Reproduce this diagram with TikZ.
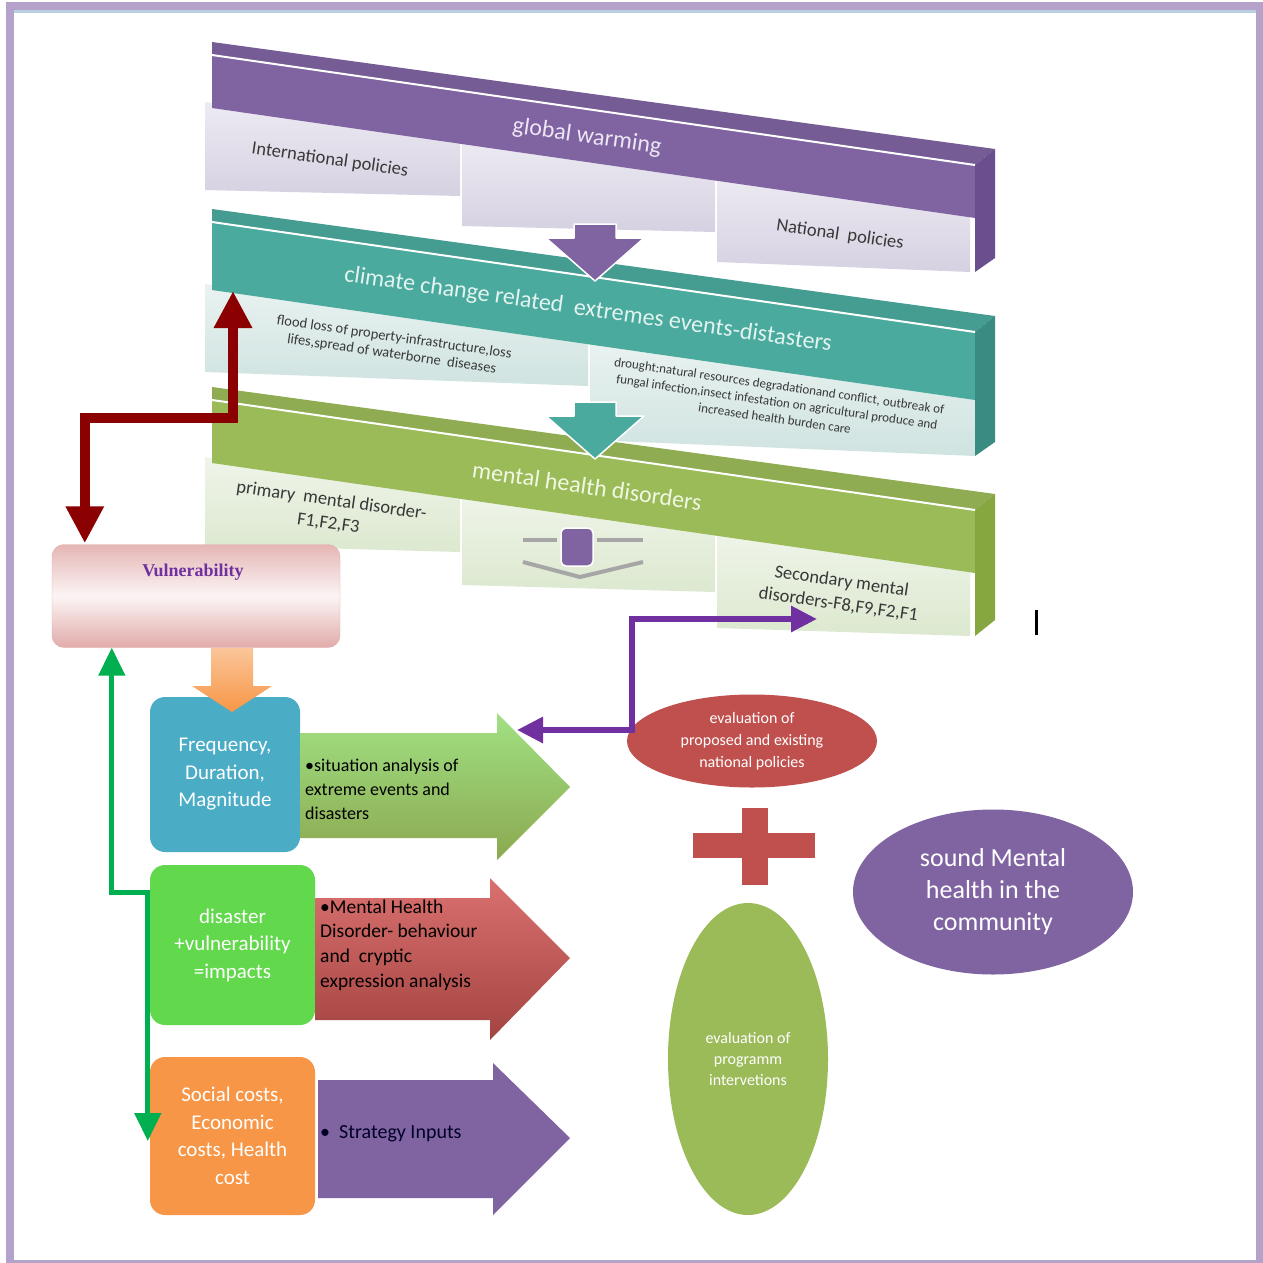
\documentclass[tikz,border=0pt]{standalone}
\usepackage{fontspec}
\setmainfont{Carlito}
\newfontfamily\vulfont{Liberation Serif}
\usetikzlibrary{positioning, calc, arrows.meta, shapes.geometric}
\definecolor{gwpurple}{HTML}{8064A2}
\definecolor{gwdark}{HTML}{6A4E8E}
\definecolor{gwgrey}{HTML}{D6D1E2}
\definecolor{gwtext}{HTML}{ECE6F4}
\definecolor{ccteal}{HTML}{4BAA9E}
\definecolor{ccdark}{HTML}{3A8C82}
\definecolor{ccgrey}{HTML}{CFE3E0}
\definecolor{cctext}{HTML}{E2F3F0}
\definecolor{mhgreen}{HTML}{9BBB59}
\definecolor{mhdark}{HTML}{86A63F}
\definecolor{mhgrey}{HTML}{DCE8CF}
\definecolor{mhtext}{HTML}{F0F7E2}
\definecolor{boxblue}{HTML}{4BACC6}
\definecolor{boxgreen}{HTML}{62D84C}
\definecolor{boxorange}{HTML}{F79646}
\definecolor{evalred}{HTML}{C0504D}
\definecolor{linkred}{HTML}{8B0000}
\definecolor{linkgreen}{HTML}{00B050}
\definecolor{linkpurple}{HTML}{7030A0}
\definecolor{framelilac}{HTML}{B4A2CB}
\definecolor{frameblue}{HTML}{B9CFE2}
\tikzset{slabtitle/.style={rotate=-8.2, align=center, font=\fontsize{24}{28}\selectfont},
slablabel/.style={rotate=-8.2, align=center, text=black!78, font=\fontsize{18.5}{23}\selectfont},
block/.style={rounded corners=15pt, minimum width=165pt, minimum height=158pt, align=center, text=white, font=\fontsize{21}{27.5}\selectfont, inner sep=2pt},
arrowtext/.style={anchor=west, align=left, text=black, inner sep=0pt},
oval/.style={ellipse, inner sep=0pt, align=center, text=white},
downarrow/.style={draw=white, line width=1.5pt, line join=round},
redlink/.style={draw=linkred, line width=10pt, {Triangle[width=36pt,length=37pt]}-{Triangle[width=36pt,length=37pt]}},
greenlink/.style={draw=linkgreen, line width=5pt, {Triangle[width=26pt,length=28pt]}-{Triangle[width=26pt,length=28pt]}},
purplelink/.style={draw=linkpurple, line width=6pt, {Triangle[width=25pt,length=26pt]}-{Triangle[width=25pt,length=26pt]}}
}
\begin{document}
\begin{tikzpicture}[x=1pt, y=-1pt]
\useasboundingbox (0,0) rectangle (1263,1263);
\fill[white] (0,0) rectangle (1263,1263);
\draw[framelilac, line width=8pt] (10,6) rectangle (1260,1264);
\draw[frameblue, line width=3pt] (14,11.5) -- (1256,11.5);

% global warming slab
\foreach \xl/\xr/\ta/\tb/\ba/\bb in {205/460/102/139/190/196, 462/715/139/175/226/232, 717/970/175/212/262/272}
  \shade[top color=gwgrey!45!white, bottom color=gwgrey] (\xl,\ta) -- (\xr,\tb) -- (\xr,\bb) -- (\xl,\ba) -- cycle;
\fill[gwpurple] (212,55) -- (975,165) -- (975,218) -- (212,108) -- cycle;
\fill[gwpurple!92!black] (212,42) -- (995,149) -- (975,165) -- (212,55) -- cycle;
\fill[gwdark] (975,165) -- (995,149) -- (995,258) -- (975,272) -- cycle;
\draw[white, line width=2pt] (212,55) -- (975,165);
\node[slabtitle, text=gwtext] (Global) at (587,137) {global warming};
\node[slablabel] (International) at (330,160) {International policies};
\node[slablabel] (National) at (840,235) {National\ \ policies};

% climate change slab
\foreach \xl/\xr/\ta/\tb/\ba/\bb in {205/588/284/339/372/386, 590/975/339/395/440/456}
  \shade[top color=ccgrey!45!white, bottom color=ccgrey] (\xl,\ta) -- (\xr,\tb) -- (\xr,\bb) -- (\xl,\ba) -- cycle;
\fill[ccteal] (212,222) -- (975,332) -- (975,400) -- (212,290) -- cycle;
\fill[ccteal!92!black] (212,209) -- (995,316) -- (975,332) -- (212,222) -- cycle;
\fill[ccdark] (975,332) -- (995,316) -- (995,442) -- (975,456) -- cycle;
\draw[white, line width=2pt] (212,222) -- (975,332);
\node[slabtitle, text=cctext] (Climate) at (588,310) {climate change related\ \ extremes events-distasters};
\node[slablabel, font=\fontsize{14.5}{17}\selectfont] (Flood) at (393,346) {flood loss of property-infrastructure,loss\\lifes,spread of waterborne\ \ diseases};
\node[slablabel, font=\fontsize{13}{16.5}\selectfont] (Drought) at (777,402) {drought:natural resources degradationand conflict, outbreak of\\fungal infection,insect infestation on agricultural produce and\\increased health burden care};

% mental health slab
\foreach \xl/\xr/\ta/\tb/\ba/\bb in {205/460/457/493/545/552, 462/715/493/530/585/592, 717/970/530/567/628/636}
  \shade[top color=mhgrey!45!white, bottom color=mhgrey] (\xl,\ta) -- (\xr,\tb) -- (\xr,\bb) -- (\xl,\ba) -- cycle;
\fill[mhgreen] (212,400) -- (975,510) -- (975,573) -- (212,463) -- cycle;
\fill[mhgreen!92!black] (212,387) -- (995,494) -- (975,510) -- (212,400) -- cycle;
\fill[mhdark] (975,510) -- (995,494) -- (995,620) -- (975,636) -- cycle;
\draw[white, line width=2pt] (212,400) -- (975,510);
\node[slabtitle, text=mhtext] (Mental) at (587,486) {mental health disorders};
\node[slablabel] (Primary) at (330,512) {primary\ \ mental disorder-\\F1,F2,F3};
\node[slablabel] (Secondary) at (840,593) {Secondary mental\\disorders-F8,F9,F2,F1};

\filldraw[fill=gwpurple, downarrow] (574,224) -- (616,224) -- (616,238) -- (644,238) -- (595,281) -- (546,238) -- (574,238) -- cycle;
\filldraw[fill=ccteal, downarrow] (574,402) -- (616,402) -- (616,416) -- (644,416) -- (595,459) -- (546,416) -- (574,416) -- cycle;
\draw[black!35, line width=4pt] (523,540) -- (557,540) (597,540) -- (643,540);
\draw[black!35, line width=4pt, line join=round] (523,562) -- (580,577) -- (643,562);
\filldraw[fill=gwpurple, draw=white, line width=1.5pt, rounded corners=5pt] (561,528) rectangle (593,566);

\node[rounded corners=12pt, minimum width=288pt, minimum height=103pt, draw=evalred!45, top color=evalred!42!white, bottom color=evalred!48!white, middle color=evalred!6!white] (Vulnerability) at (196,596) {};
\node[font=\vulfont\bfseries\fontsize{18}{20}\selectfont, text=linkpurple] (Vulnerability text) at (193,572) {Vulnerability};

\node[block, fill=boxblue, minimum width=150pt, minimum height=155pt] (Frequency) at (225,774.5) {Frequency,\\Duration,\\Magnitude};
\node[block, fill=boxgreen, minimum height=160pt] (Disaster) at (232.5,945) {disaster\\+vulnerability\\=impacts};
\node[block, fill=boxorange] (Social) at (232.5,1136) {Social costs,\\Economic\\costs, Health\\cost};
\shade[top color=boxorange!55!white, bottom color=boxorange] (211,648) -- (253,648) -- (253,686) -- (272,686) -- (232,712) -- (192,686) -- (211,686) -- cycle;

\shade[top color=mhgreen!55!white!80!green, bottom color=mhgreen!90!black] (300,733) -- (497,733) -- (497,713) -- (570,787) -- (497,860) -- (497,838) -- (300,838) -- cycle;
\shade[top color=evalred!70!white!85!red, bottom color=evalred!85!black] (315,898) -- (490,898) -- (490,878) -- (570,958) -- (490,1040) -- (490,1020) -- (315,1020) -- cycle;
\fill[gwpurple] (318,1080) -- (493,1080) -- (493,1063) -- (570,1138) -- (493,1215) -- (493,1198) -- (318,1198) -- cycle;
\node[arrowtext, font=\fontsize{18}{24}\selectfont] (Situation) at (305,789) {\textbullet situation analysis of\\extreme events and\\disasters};
\node[arrowtext, font=\fontsize{19.5}{24.6}\selectfont] (Analysis) at (320,945) {\textbullet Mental Health\\Disorder- behaviour\\and\ \ cryptic\\expression analysis};
\node[arrowtext, font=\fontsize{20}{24}\selectfont, text=black!85!blue] (Strategy) at (320,1134) {\textbullet\ \ Strategy Inputs};

\coordinate (flood end) at (233,291);
\draw[redlink] ($(Vulnerability.north west)+(33,-1)$) |- ($(flood end)+(0,127)$) -- (flood end);
\draw[greenlink] ($(Vulnerability.south west)+(60,0)$) |- ($(Disaster.north west)+(-2,28)$) -- ($(Social.west)+(-2,5)$);

\node[oval, fill=evalred, minimum width=250pt, minimum height=93pt, font=\fontsize{16}{22}\selectfont] (Policies) at (752,741) {evaluation of\\proposed and existing\\national policies};
\fill[evalred] (693,833) rectangle (815,858);
\fill[evalred] (742,808) rectangle (768,885);
\node[oval, fill=mhgreen, minimum width=160pt, minimum height=312pt, font=\fontsize{16}{21}\selectfont] (Programme) at (748,1059) {evaluation of\\programm\\intervetions};
\node[oval, fill=gwpurple, minimum width=280pt, minimum height=165pt, font=\fontsize{26}{32}\selectfont] (Community) at (993,892) {sound Mental\\health in the\\community};

\coordinate (into situation) at (517,730);
\coordinate (hub) at (632,619);
\coordinate (to secondary) at (817,619);
\draw[purplelink] (into situation) -| (hub) -- (to secondary);

\fill[black] (1034.5,610) rectangle (1037.5,635);
\end{tikzpicture}
\end{document}
